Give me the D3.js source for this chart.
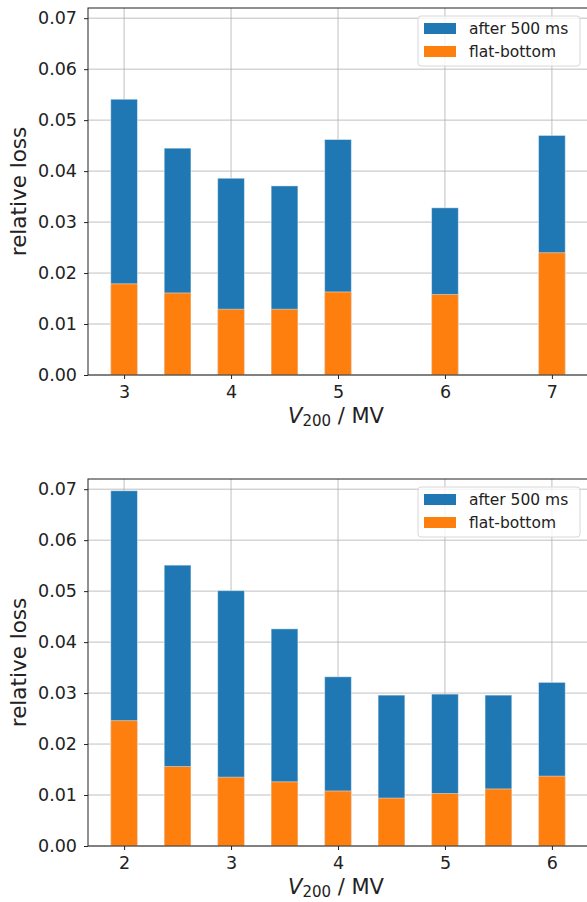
<!DOCTYPE html>
<html>
<head>
<meta charset="utf-8">
<script src="https://cdn.jsdelivr.net/npm/d3@7"></script>
<style>
  body { margin: 0; background: #fff; }
  svg text { font-family: "DejaVu Sans", sans-serif; }
  .grid line { stroke: #b0b0b0; stroke-width: 0.8; }
  .axis path, .axis line { stroke: #222; }
  .axis text { fill: #222; font-size: 17.5px; font-family: "DejaVu Sans", sans-serif; }
</style>
</head>
<body>
<script>
// upper panel
var topV     = [3, 3.5, 4, 4.5, 5, 6, 7];
var topAfter = [0.0541, 0.0445, 0.0386, 0.0371, 0.0462, 0.0328, 0.0470];
var topFlat  = [0.0179, 0.0161, 0.0129, 0.0129, 0.0163, 0.0158, 0.0240];
var topXTicks = [3, 4, 5, 6, 7];

// lower panel
var botV     = [2, 2.5, 3, 3.5, 4, 4.5, 5, 5.5, 6];
var botAfter = [0.0697, 0.0551, 0.0501, 0.0426, 0.0332, 0.0296, 0.0298, 0.0296, 0.0321];
var botFlat  = [0.0246, 0.0156, 0.0135, 0.0126, 0.0108, 0.0094, 0.0103, 0.0112, 0.0137];
var botXTicks = [2, 3, 4, 5, 6];

var yTicks = [0, 0.01, 0.02, 0.03, 0.04, 0.05, 0.06, 0.07];
var seriesNames = ["after 500 ms", "flat-bottom"];
var colors = ["#1f77b4", "#ff7f0e"];
var barWidth = 0.25;
var FONT = "DejaVu Sans";

var svg = d3.select("body").append("svg")
  .attr("width", 587)
  .attr("height", 902)
  .style("display", "block");

drawPanel({top: 8, bottom: 375, v: topV, after: topAfter, flat: topFlat, xticks: topXTicks});
drawPanel({top: 479, bottom: 846, v: botV, after: botAfter, flat: botFlat, xticks: botXTicks});

function drawPanel(p){
  var left = 88, right = 588;
  // matplotlib style 5% margin around the bars
  var lo = d3.min(p.v) - barWidth / 2, hi = d3.max(p.v) + barWidth / 2;
  var pad = (hi - lo) * 0.05;

  var x = d3.scaleLinear().domain([lo - pad, hi + pad]).range([left, right]);
  var y = d3.scaleLinear().domain([0, 0.072]).range([p.bottom, p.top]);

  var g = svg.append("g");

  // grid
  var grid = g.append("g").attr("class", "grid");
  grid.selectAll(".gx").data(p.xticks).enter().append("line")
    .attr("x1", d => x(d)).attr("x2", d => x(d))
    .attr("y1", p.top).attr("y2", p.bottom);
  grid.selectAll(".gy").data(yTicks).enter().append("line")
    .attr("x1", left).attr("x2", right)
    .attr("y1", d => y(d)).attr("y2", d => y(d));

  var w = x(barWidth) - x(0);
  var rows = p.v.map((d, i) => ({v: d, after: p.after[i], flat: p.flat[i]}));

  // after 500 ms (full height), flat-bottom drawn over it
  g.selectAll(".after").data(rows).enter().append("rect")
    .attr("x", d => x(d.v) - w / 2)
    .attr("width", w)
    .attr("y", d => y(d.after))
    .attr("height", d => y(0) - y(d.after))
    .attr("fill", colors[0])
    .attr("stroke", "rgba(255,255,255,0.45)").attr("stroke-width", 1);

  g.selectAll(".flat").data(rows).enter().append("rect")
    .attr("x", d => x(d.v) - w / 2)
    .attr("width", w)
    .attr("y", d => y(d.flat))
    .attr("height", d => y(0) - y(d.flat))
    .attr("fill", colors[1])
    .attr("stroke", "rgba(255,255,255,0.45)").attr("stroke-width", 1);

  // axes
  g.append("g")
    .attr("class", "axis")
    .attr("font-family", FONT)
    .attr("transform", "translate(0," + p.bottom + ")")
    .call(d3.axisBottom(x).tickValues(p.xticks).tickFormat(d3.format("d")).tickSizeOuter(0).tickSize(4).tickPadding(7))
    .call(a => a.select(".domain").remove());

  g.append("g")
    .attr("class", "axis")
    .attr("font-family", FONT)
    .attr("transform", "translate(" + left + ",0)")
    .call(d3.axisLeft(y).tickValues(yTicks).tickFormat(d3.format(".2f")).tickSizeOuter(0).tickSize(4).tickPadding(7))
    .call(a => a.select(".domain").remove());

  // spines
  g.append("rect")
    .attr("x", left).attr("y", p.top)
    .attr("width", right - left).attr("height", p.bottom - p.top)
    .attr("fill", "none").attr("stroke", "#222").attr("stroke-width", 1);

  // labels
  var xl = g.append("text")
    .attr("x", (left + right) / 2 - 2)
    .attr("y", p.bottom + 48)
    .attr("text-anchor", "middle")
    .attr("font-family", FONT)
    .attr("font-size", 21)
    .attr("fill", "#222");
  xl.append("tspan").attr("font-style", "italic").text("V");
  xl.append("tspan").attr("font-size", 15).attr("dy", 3).text("200");
  xl.append("tspan").attr("dy", -3).text(" / MV");

  g.append("text")
    .attr("transform", "translate(26," + (p.top + p.bottom) / 2 + ") rotate(-90)")
    .attr("text-anchor", "middle")
    .attr("font-family", FONT)
    .attr("font-size", 21.5)
    .attr("fill", "#222")
    .text("relative loss");

  // legend
  var lg = g.append("g").attr("transform", "translate(418," + (p.top + 8) + ")");
  lg.append("rect")
    .attr("width", 162).attr("height", 50).attr("rx", 3)
    .attr("fill", "rgba(255,255,255,0.8)")
    .attr("stroke", "#d8d8d8");
  seriesNames.forEach(function(s, i){
    lg.append("rect")
      .attr("x", 6).attr("y", 7 + i * 23)
      .attr("width", 32).attr("height", 11)
      .attr("fill", colors[i]);
    lg.append("text")
      .attr("x", 51).attr("y", 18 + i * 23)
      .attr("font-family", FONT)
      .attr("font-size", 15.5)
      .attr("fill", "#222")
      .text(s);
  });
}
</script>
</body>
</html>
